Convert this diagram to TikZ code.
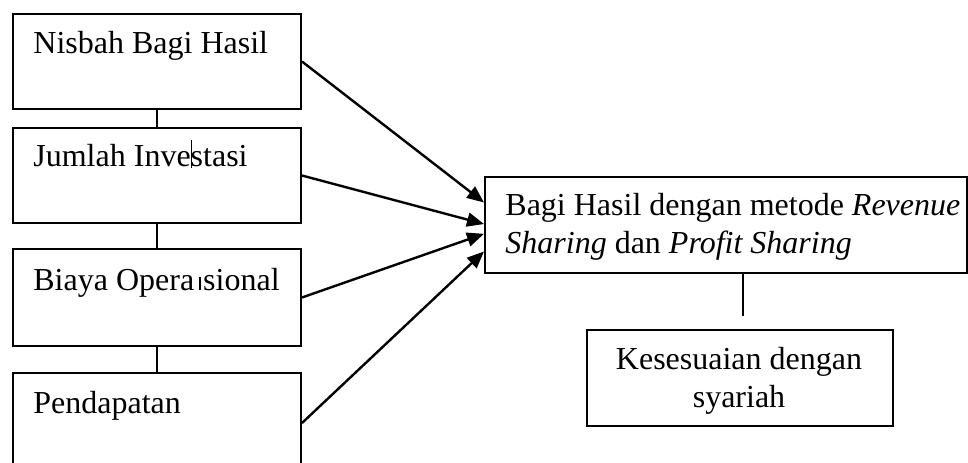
\documentclass[tikz,border=0pt]{standalone}
\usepackage{fontspec}
\setmainfont{Liberation Serif}
\usetikzlibrary{arrows.meta,calc}
\begin{document}
\begin{tikzpicture}[x=0.5pt,y=-0.5pt,
  box/.style={draw,line width=1pt,rectangle,inner sep=0pt,anchor=north west},
  lbl/.style={inner sep=0pt,anchor=base west,font=\fontsize{16}{19}\selectfont},
  link/.style={line width=0.7pt},
  arr/.style={line width=1.2pt,-{Triangle[length=8.5pt,width=7pt]}}]
\useasboundingbox (0,0) rectangle (968,462);
\clip (0,0) rectangle (968,462);
% left boxes
\node[box,minimum width=144pt,minimum height=47.5pt] (b1) at (12,13) {};
\node[box,minimum width=144pt,minimum height=47.5pt] (b2) at (12,127) {};
\node[box,minimum width=144pt,minimum height=48.5pt] (b3) at (12,248) {};
\node[box,minimum width=144pt,minimum height=50pt] (b4) at (12,372) {};
\node[lbl] (t1) at (33,53) {Nisbah Bagi Hasil};
\node[lbl] (t2) at (33,166) {Jumlah Inve\rlap{\rule[-1pt]{0.5pt}{14pt}}stasi};
\node[lbl] (t3) at (33,290) {Biaya Opera\hspace{2.5pt}\rule{1pt}{6.5pt}\hspace{1pt}sional};
\node[lbl] (t4) at (33,413) {Pendapatan};
% main box
\node[box,minimum width=241pt,minimum height=48pt] (m) at (484,176) {};
\node[lbl,align=left] (tm) at (505,253)
  {Bagi Hasil dengan metode \textit{Revenue}\\ \textit{Sharing} dan \textit{Profit Sharing}};
% kesesuaian box
\node[box,minimum width=153pt,minimum height=48pt] (k) at (586,329) {};
\node[lbl,anchor=base,align=center] (tk) at (739,407)
  {Kesesuaian dengan\\ syariah};
% vertical links
\draw[link] (b1.south) -- (b2.north);
\draw[link] (b2.south) -- (b3.north);
\draw[link] (b3.south) -- (b4.north);
\coordinate (c1) at (743,316);
\draw[link] (c1 |- m.south) -- (c1);
% arrows
\draw[arr] (b1.east) -- ($(m.north west)!0.27!(m.south west)$);
\draw[arr] (b2.east) -- ($(m.north west)!0.49!(m.south west)$);
\draw[arr] (b3.east) -- ($(m.north west)!0.59!(m.south west)$);
\draw[arr] (b4.east) -- ($(m.north west)!0.77!(m.south west)$);
\end{tikzpicture}
\end{document}
